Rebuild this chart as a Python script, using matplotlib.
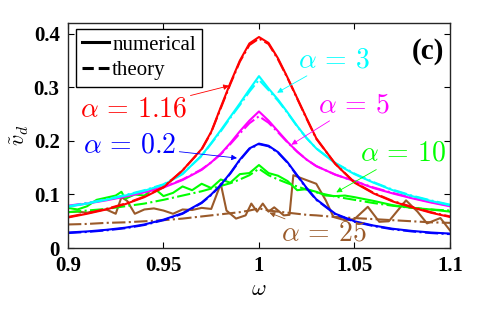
import matplotlib
matplotlib.use("Agg")
import matplotlib.pyplot as plt
from matplotlib.lines import Line2D

plt.rcParams['mathtext.fontset'] = 'cm'
plt.rcParams['font.family'] = 'Liberation Serif'

# frequency grid for the smooth curves
w = [0.90, 0.91, 0.92, 0.93, 0.94, 0.95, 0.96, 0.97, 0.975, 0.98, 0.985, 0.99, 0.995, 1.0,
     1.005, 1.01, 1.015, 1.02, 1.025, 1.03, 1.04, 1.05, 1.06, 1.07, 1.08, 1.09, 1.10]

red_num = [0.057, 0.064, 0.072, 0.082, 0.095, 0.113, 0.145, 0.185, 0.217, 0.263, 0.308, 0.350, 0.382, 0.394,
           0.383, 0.354, 0.318, 0.280, 0.242, 0.205, 0.157, 0.122, 0.102, 0.087, 0.076, 0.066, 0.058]
red_th = [0.058, 0.065, 0.073, 0.083, 0.096, 0.114, 0.145, 0.184, 0.216, 0.261, 0.306, 0.348, 0.379, 0.391,
          0.381, 0.352, 0.317, 0.279, 0.241, 0.204, 0.157, 0.123, 0.103, 0.088, 0.077, 0.067, 0.059]
cyan_num = [0.077, 0.083, 0.090, 0.098, 0.107, 0.118, 0.138, 0.173, 0.196, 0.220, 0.245, 0.270, 0.296, 0.321,
            0.298, 0.277, 0.253, 0.228, 0.205, 0.186, 0.158, 0.138, 0.122, 0.108, 0.097, 0.088, 0.080]
cyan_th = [0.078, 0.084, 0.091, 0.099, 0.108, 0.119, 0.139, 0.172, 0.195, 0.218, 0.243, 0.267, 0.292, 0.314,
           0.295, 0.275, 0.252, 0.227, 0.205, 0.186, 0.159, 0.139, 0.123, 0.109, 0.098, 0.089, 0.081]
magenta_num = [0.078, 0.083, 0.089, 0.096, 0.104, 0.113, 0.127, 0.146, 0.160, 0.176, 0.196, 0.218, 0.238, 0.255,
               0.238, 0.218, 0.198, 0.180, 0.165, 0.153, 0.137, 0.125, 0.112, 0.102, 0.093, 0.085, 0.078]
magenta_th = [0.079, 0.084, 0.090, 0.097, 0.105, 0.114, 0.128, 0.147, 0.160, 0.175, 0.194, 0.214, 0.233, 0.246,
              0.234, 0.216, 0.197, 0.180, 0.165, 0.153, 0.137, 0.125, 0.113, 0.103, 0.094, 0.086, 0.079]
blue_num = [0.029, 0.031, 0.034, 0.038, 0.044, 0.053, 0.065, 0.085, 0.100, 0.118, 0.140, 0.165, 0.186, 0.195,
            0.191, 0.179, 0.160, 0.136, 0.112, 0.091, 0.064, 0.050, 0.042, 0.036, 0.032, 0.029, 0.027]
blue_th = [0.028, 0.030, 0.033, 0.037, 0.043, 0.052, 0.064, 0.084, 0.099, 0.117, 0.139, 0.164, 0.185, 0.194,
           0.190, 0.178, 0.159, 0.135, 0.111, 0.090, 0.063, 0.049, 0.041, 0.035, 0.031, 0.028, 0.026]
green_th = [0.067, 0.070, 0.073, 0.078, 0.083, 0.090, 0.098, 0.106, 0.111, 0.116, 0.121, 0.128, 0.136, 0.148,
            0.136, 0.128, 0.121, 0.115, 0.109, 0.104, 0.096, 0.090, 0.084, 0.079, 0.075, 0.072, 0.070]
brown_th = [0.044, 0.045, 0.047, 0.048, 0.050, 0.052, 0.055, 0.059, 0.061, 0.063, 0.065, 0.067, 0.070, 0.074,
            0.070, 0.068, 0.066, 0.064, 0.062, 0.061, 0.058, 0.056, 0.054, 0.052, 0.050, 0.048, 0.047]

# noisy numerical runs
w_green = [0.900, 0.905, 0.910, 0.915, 0.920, 0.925, 0.928, 0.930, 0.935, 0.940, 0.945, 0.950, 0.955,
           0.960, 0.965, 0.970, 0.975, 0.980, 0.985, 0.990, 0.995, 1.000, 1.005, 1.010, 1.015, 1.020,
           1.025, 1.030, 1.035, 1.040, 1.045, 1.050, 1.060, 1.070, 1.080, 1.090, 1.100]
green_num = [0.075, 0.072, 0.078, 0.090, 0.094, 0.098, 0.105, 0.092, 0.100, 0.098, 0.112, 0.097, 0.103,
             0.115, 0.108, 0.120, 0.112, 0.128, 0.122, 0.138, 0.140, 0.155, 0.140, 0.135, 0.125, 0.108,
             0.110, 0.105, 0.098, 0.097, 0.098, 0.095, 0.088, 0.080, 0.075, 0.072, 0.068]
w_brown = [0.900, 0.905, 0.910, 0.915, 0.920, 0.925, 0.928, 0.931, 0.935, 0.940, 0.945, 0.950, 0.955,
           0.960, 0.965, 0.970, 0.975, 0.980, 0.983, 0.988, 0.993, 0.996, 0.999, 1.002, 1.005, 1.008,
           1.013, 1.016, 1.018, 1.024, 1.030, 1.035, 1.039, 1.045, 1.050, 1.057, 1.063, 1.068, 1.077,
           1.083, 1.088, 1.095, 1.100]
brown_num = [0.067, 0.068, 0.066, 0.070, 0.072, 0.064, 0.095, 0.088, 0.064, 0.072, 0.074, 0.070, 0.064,
             0.072, 0.071, 0.075, 0.073, 0.120, 0.070, 0.055, 0.061, 0.083, 0.068, 0.083, 0.068, 0.076,
             0.061, 0.062, 0.136, 0.128, 0.120, 0.089, 0.058, 0.052, 0.054, 0.077, 0.049, 0.050, 0.089,
             0.068, 0.046, 0.056, 0.033]

c_red = '#ff0000'
c_cyan = '#00ffff'
c_mag = '#ff00ff'
c_blue = '#0000ff'
c_green = '#00ff00'
c_brown = '#9a5a2a'

fig = plt.figure(figsize=(4.98, 3.12), dpi=100)
ax = fig.add_axes([0.1365, 0.205, 0.767, 0.721])

lw = 1.5
ax.plot(w_brown, brown_num, color=c_brown, lw=lw)
ax.plot(w, brown_th, color=c_brown, lw=lw, ls='-.')
ax.plot(w_green, green_num, color=c_green, lw=lw)
ax.plot(w, green_th, color=c_green, lw=lw, ls='-.')
ax.plot(w, blue_num, color=c_blue, lw=lw)
ax.plot(w, blue_th, color=c_blue, lw=lw, ls='-.')
ax.plot(w, magenta_num, color=c_mag, lw=lw)
ax.plot(w, magenta_th, color=c_mag, lw=lw, ls='-.')
ax.plot(w, cyan_num, color=c_cyan, lw=lw)
ax.plot(w, cyan_th, color=c_cyan, lw=lw, ls='-.')
ax.plot(w, red_num, color=c_red, lw=lw)
ax.plot(w, red_th, color=c_red, lw=lw, ls='-.')

ax.set_xlim(0.9, 1.1)
ax.set_ylim(0, 0.42)
ax.set_xticks([0.9, 0.95, 1.0, 1.05, 1.1])
ax.set_xticklabels(['0.9', '0.95', '1', '1.05', '1.1'])
ax.set_yticks([0, 0.1, 0.2, 0.3, 0.4])
ax.set_yticklabels(['0', '0.1', '0.2', '0.3', '0.4'])
ax.tick_params(direction='in', top=True, right=True, length=4, width=0.8,
               labelsize=15, pad=6)
for lab in ax.get_xticklabels() + ax.get_yticklabels():
    lab.set_fontweight('bold')
for sp in ax.spines.values():
    sp.set_linewidth(1.0)
    sp.set_color('#262626')

ax.set_xlabel(r'$\omega$', fontsize=16, labelpad=3)
ax.set_ylabel(r'$\tilde{v}_d$', fontsize=16, labelpad=2)

handles = [Line2D([], [], color='k', lw=2.2, ls='-'),
           Line2D([], [], color='k', lw=2.2, ls='--')]
leg = ax.legend(handles, ['numerical', 'theory'], loc='upper left',
                bbox_to_anchor=(0.02, 0.975), fontsize=15, handlelength=1.3,
                handletextpad=0.15, borderpad=0.3, labelspacing=0.3,
                borderaxespad=0.0, fancybox=False, framealpha=1)
leg.get_frame().set_edgecolor('k')
leg.get_frame().set_linewidth(1.0)

ax.text(0.985, 0.935, '(c)', fontsize=21, fontweight='bold', ha='right', va='top',
        transform=ax.transAxes)

fs = 20
arr = dict(arrowstyle='-|>', lw=0.6, mutation_scale=8, shrinkA=0, shrinkB=0)
ax.annotate(r'$\alpha\,=\,1.16$', xy=(0.9843, 0.303), xytext=(0.9065, 0.258), fontsize=fs,
            color=c_red, va='center', arrowprops=dict(arr, color=c_red))
ax.annotate(r'$\alpha\,=\,0.2$', xy=(0.9885, 0.168), xytext=(0.908, 0.190), fontsize=fs,
            color=c_blue, va='center', arrowprops=dict(arr, color=c_blue))
ax.annotate(r'$\alpha\,=\,3$', xy=(1.0095, 0.290), xytext=(1.0204, 0.350), fontsize=fs,
            color=c_cyan, va='center', arrowprops=dict(arr, color=c_cyan))
ax.annotate(r'$\alpha\,=\,5$', xy=(1.017, 0.193), xytext=(1.031, 0.266), fontsize=fs,
            color=c_mag, va='center', arrowprops=dict(arr, color=c_mag))
ax.annotate(r'$\alpha\,=\,10$', xy=(1.0405, 0.104), xytext=(1.053, 0.175), fontsize=fs,
            color=c_green, va='center', arrowprops=dict(arr, color=c_green))
ax.annotate(r'$\alpha\,=\,25$', xy=(1.0055, 0.066), xytext=(1.0115, 0.026), fontsize=fs,
            color=c_brown, va='center', arrowprops=dict(arr, color=c_brown))

fig.savefig('out.png', dpi=100)
